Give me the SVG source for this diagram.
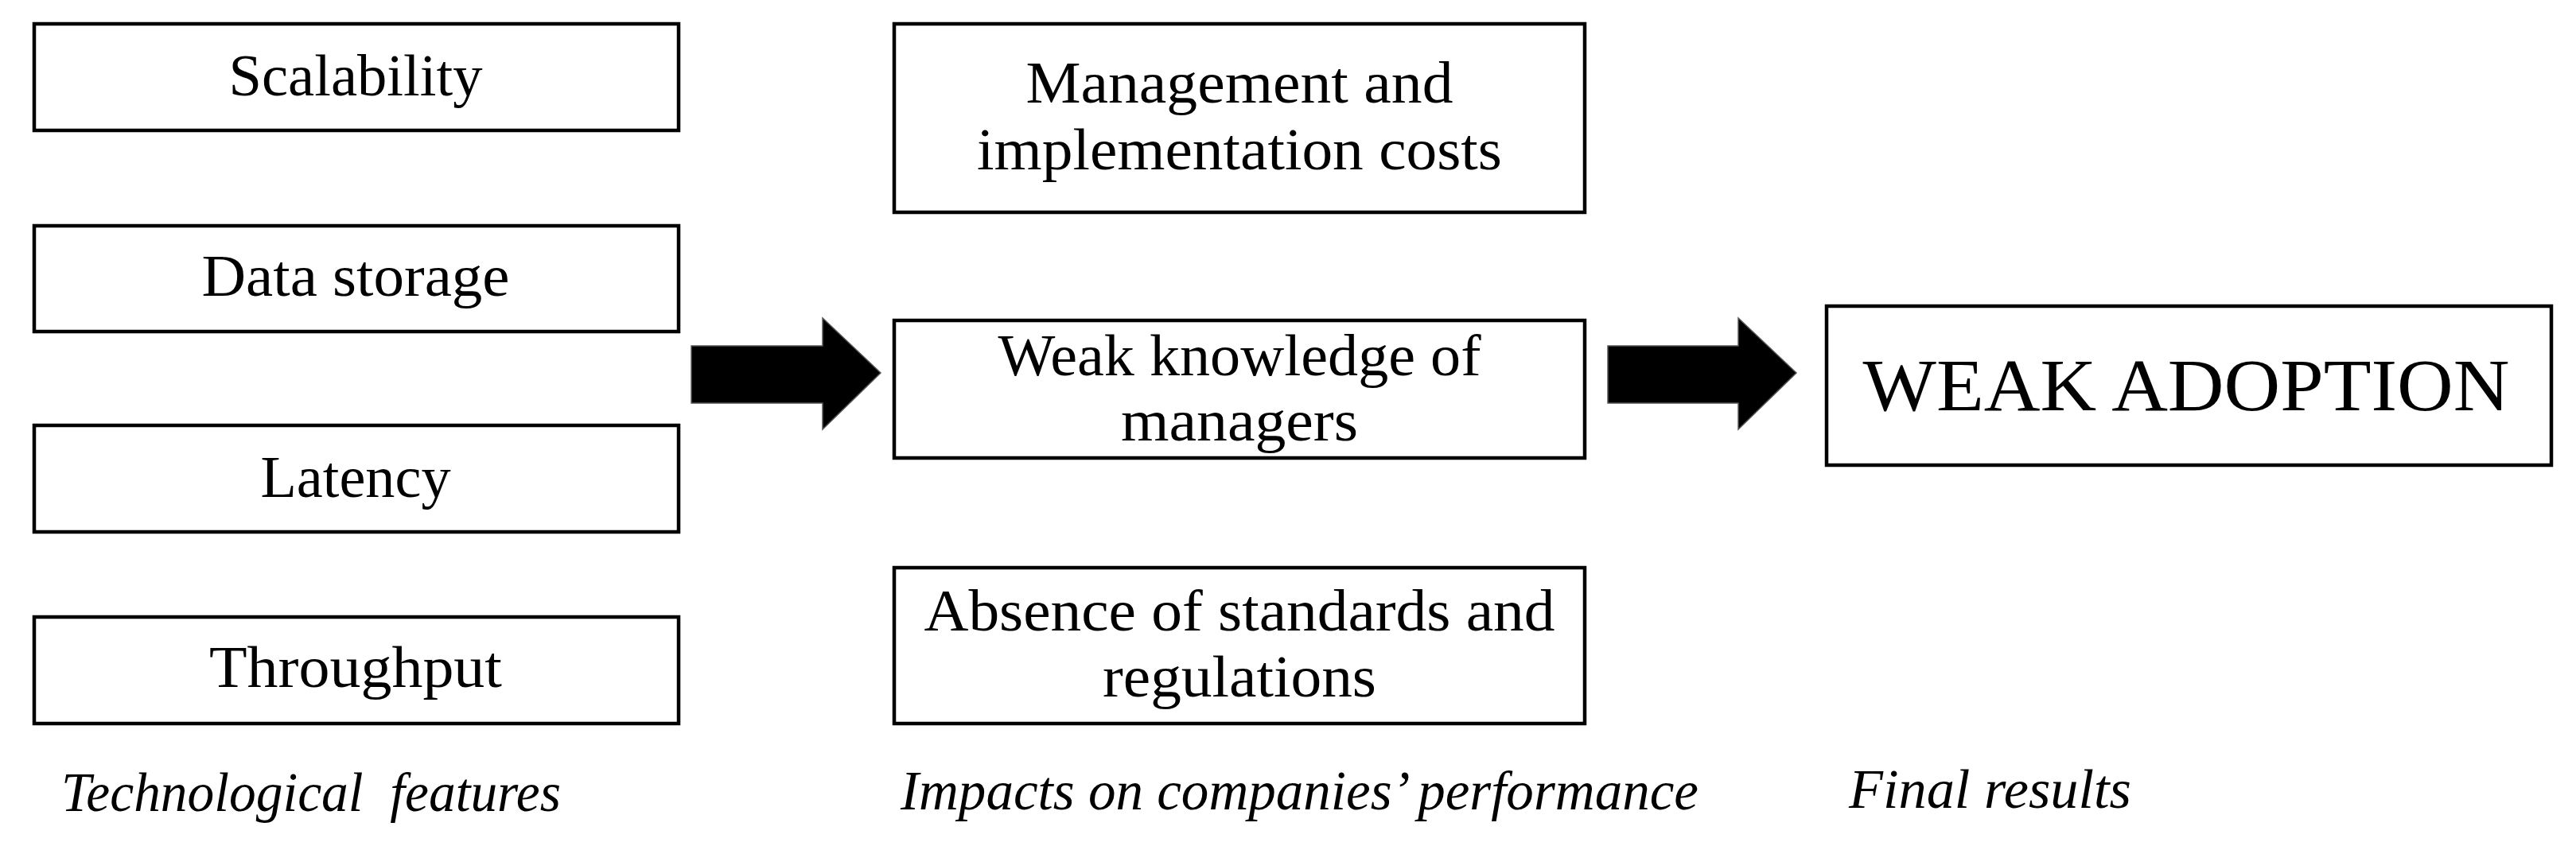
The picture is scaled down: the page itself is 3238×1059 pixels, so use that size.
<svg xmlns="http://www.w3.org/2000/svg" width="3238" height="1059" viewBox="0 0 3238 1059">
<style>
.box{fill:#fff;stroke:#000;stroke-width:4.5}
.t{font-family:"Liberation Serif","Times New Roman",serif;font-size:73px;fill:#000;text-anchor:middle}
.big{font-family:"Liberation Serif","Times New Roman",serif;font-size:93px;fill:#000;text-anchor:middle}
.cap{font-family:"Liberation Serif","Times New Roman",serif;font-size:70px;font-style:italic;fill:#000}
.arrow{fill:#000;stroke:#555;stroke-width:1.5;stroke-linejoin:miter}
</style>
<rect width="3238" height="1059" fill="#fff"/>
<g id="scalability">
<rect class="box" x="43" y="30" width="810" height="134"/>
<text class="t" x="447" y="120" textLength="319" lengthAdjust="spacingAndGlyphs">Scalability</text>
</g>
<g id="data-storage">
<rect class="box" x="43" y="284" width="810" height="133"/>
<text class="t" x="447" y="372" textLength="387" lengthAdjust="spacingAndGlyphs">Data storage</text>
</g>
<g id="latency">
<rect class="box" x="43" y="535" width="810" height="134"/>
<text class="t" x="447" y="625" textLength="239" lengthAdjust="spacingAndGlyphs">Latency</text>
</g>
<g id="throughput">
<rect class="box" x="43" y="776" width="810" height="134"/>
<text class="t" x="447" y="864" textLength="368" lengthAdjust="spacingAndGlyphs">Throughput</text>
</g>
<g id="management-costs">
<rect class="box" x="1124" y="30" width="868" height="237"/>
<text class="t" x="1558" y="129" textLength="537" lengthAdjust="spacingAndGlyphs">Management and</text>
<text class="t" x="1558" y="213" textLength="660" lengthAdjust="spacingAndGlyphs">implementation costs</text>
</g>
<g id="weak-knowledge">
<rect class="box" x="1124" y="403" width="868" height="173"/>
<text class="t" x="1558" y="472" textLength="607" lengthAdjust="spacingAndGlyphs">Weak knowledge of</text>
<text class="t" x="1558" y="554" textLength="298" lengthAdjust="spacingAndGlyphs">managers</text>
</g>
<g id="absence-standards">
<rect class="box" x="1124" y="714" width="868" height="196"/>
<text class="t" x="1558" y="793" textLength="793" lengthAdjust="spacingAndGlyphs">Absence of standards and</text>
<text class="t" x="1558" y="876" textLength="344" lengthAdjust="spacingAndGlyphs">regulations</text>
</g>
<g id="weak-adoption">
<rect class="box" x="2296" y="385" width="911" height="200"/>
<text class="big" x="2748" y="516" textLength="813" lengthAdjust="spacingAndGlyphs">WEAK ADOPTION</text>
</g>
<g id="captions">
<text class="cap" x="77" y="1020" textLength="628" lengthAdjust="spacingAndGlyphs" xml:space="preserve">Technological  features</text>
<text class="cap" x="1132" y="1018" textLength="1003" lengthAdjust="spacingAndGlyphs">Impacts on companies’ performance</text>
<text class="cap" x="2324" y="1016" textLength="355" lengthAdjust="spacingAndGlyphs">Final results</text>
</g>
<g id="connectors">
<polygon class="arrow" points="869,435 1034,435 1034,400 1107,469 1034,540 1034,507 869,507"/>
<polygon class="arrow" points="2021,435 2185,435 2185,400 2258,469 2185,540 2185,507 2021,507"/>
</g>
</svg>
